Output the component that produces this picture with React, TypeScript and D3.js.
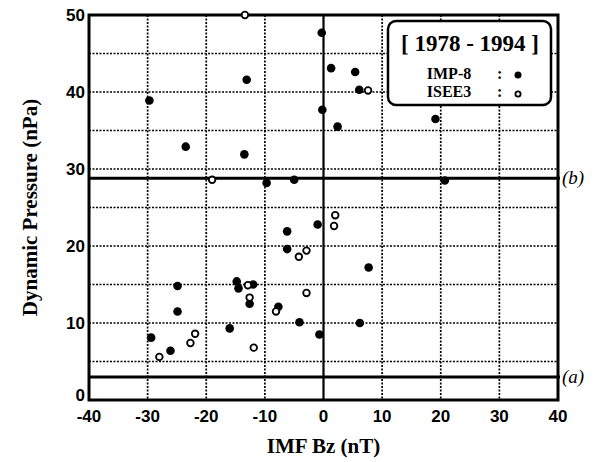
import { useEffect, useRef } from 'react'
import * as d3 from 'd3'

// IMF Bz (nT) vs dynamic pressure (nPa), 1978 - 1994
const impBz = [-29.7, -23.5, -13.1, -13.5, -0.3, 1.3, 5.4, 6.1, -0.2, 2.4, 19.1, -9.7, -5.0, 20.7,
  -24.9, -24.9, -29.4, -26.1, -16.0, -14.8, -14.5, -12.0, -12.6, -1.0, -6.2, -6.2, 7.7, -7.7, -4.1, 6.2, -0.7]
const impP = [38.9, 32.9, 41.6, 31.9, 47.7, 43.1, 42.6, 40.3, 37.7, 35.5, 36.5, 28.2, 28.6, 28.5,
  14.8, 11.5, 8.1, 6.4, 9.3, 15.4, 14.5, 15.0, 12.5, 22.8, 21.9, 19.6, 17.2, 12.1, 10.1, 10.0, 8.5]

const iseeBz = [-13.4, -19.0, 7.6, -28.0, -22.7, -21.9, -12.9, -12.6, -11.9, 2.0, 1.8, -2.9, -4.2, -2.9, -8.1]
const iseeP = [50.0, 28.6, 40.2, 5.6, 7.4, 8.6, 14.9, 13.3, 6.8, 24.0, 22.6, 19.4, 18.6, 13.9, 11.5]

const xTicks = [-40, -30, -20, -10, 0, 10, 20, 30, 40]
const yTicks = [0, 10, 20, 30, 40, 50]
const yGrid = [5, 10, 15, 20, 25, 30, 35, 40, 45]
const xGrid = [-30, -20, -10, 10, 20, 30]
const levels = [{ label: '(b)', value: 28.8 }, { label: '(a)', value: 3.0 }]

export default function App() {
  const svgRef = useRef<SVGSVGElement>(null)

  useEffect(() => {
    const svg = d3.select(svgRef.current)
    svg.selectAll('*').remove()
    const left = 89, right = 558, top = 15, bottom = 400
    const x = d3.scaleLinear().domain([-40, 40]).range([left, right])
    const y = d3.scaleLinear().domain([0, 50]).range([bottom, top])
    const sans = 'Liberation Sans, Arial, sans-serif'
    const serif = 'Liberation Serif, Times New Roman, serif'

    const g = svg.append('g')

    // dotted grid
    g.selectAll('.hgrid').data(yGrid).enter().append('line')
      .attr('x1', left).attr('x2', right)
      .attr('y1', d => y(d)).attr('y2', d => y(d))
      .attr('stroke', '#000').attr('stroke-width', 1.7).attr('stroke-dasharray', '2,1.5')
    g.selectAll('.vgrid').data(xGrid).enter().append('line')
      .attr('y1', top).attr('y2', bottom)
      .attr('x1', d => x(d)).attr('x2', d => x(d))
      .attr('stroke', '#000').attr('stroke-width', 1.7).attr('stroke-dasharray', '2,1.5')

    // zero line
    g.append('line')
      .attr('x1', x(0)).attr('x2', x(0)).attr('y1', top).attr('y2', bottom)
      .attr('stroke', '#000').attr('stroke-width', 2.2)

    // threshold lines
    levels.forEach(l => {
      g.append('line')
        .attr('x1', left).attr('x2', right + 2)
        .attr('y1', y(l.value)).attr('y2', y(l.value))
        .attr('stroke', '#000').attr('stroke-width', 3)
      g.append('text')
        .attr('x', right + 4).attr('y', y(l.value) + 6)
        .attr('font-family', serif).attr('font-style', 'italic')
        .attr('font-size', 19).text(l.label)
    })

    // frame
    g.append('rect')
      .attr('x', left).attr('y', top)
      .attr('width', right - left).attr('height', bottom - top)
      .attr('fill', 'none').attr('stroke', '#000').attr('stroke-width', 3)

    // points
    g.selectAll('.imp').data(impBz.map((b, i) => [b, impP[i]])).enter().append('circle')
      .attr('cx', d => x(d[0])).attr('cy', d => y(d[1]))
      .attr('r', 4.3).attr('fill', '#000')
    g.selectAll('.isee').data(iseeBz.map((b, i) => [b, iseeP[i]])).enter().append('circle')
      .attr('cx', d => x(d[0])).attr('cy', d => y(d[1]))
      .attr('r', 3.3).attr('fill', '#fff').attr('stroke', '#000').attr('stroke-width', 1.8)

    // tick labels
    g.selectAll('.xt').data(xTicks).enter().append('text')
      .attr('x', d => x(d)).attr('y', bottom + 22)
      .attr('text-anchor', 'middle')
      .attr('font-family', sans).attr('font-weight', 'bold').attr('font-size', 17)
      .text(d => d)
    g.selectAll('.yt').data(yTicks).enter().append('text')
      .attr('x', left - 4).attr('y', d => y(d) + (d === 0 ? 1 : 6))
      .attr('text-anchor', 'end')
      .attr('font-family', sans).attr('font-weight', 'bold').attr('font-size', 17)
      .text(d => d)

    // axis titles
    g.append('text')
      .attr('x', x(0)).attr('y', 453)
      .attr('text-anchor', 'middle')
      .attr('font-family', serif).attr('font-weight', 'bold').attr('font-size', 21)
      .text('IMF Bz (nT)')
    g.append('text')
      .attr('transform', `translate(37, ${(top + bottom) / 2}) rotate(-90)`)
      .attr('text-anchor', 'middle')
      .attr('font-family', serif).attr('font-weight', 'bold').attr('font-size', 21)
      .text('Dynamic Pressure (nPa)')

    // legend
    const lg = g.append('g')
    lg.append('rect')
      .attr('x', 388).attr('y', 21).attr('width', 163).attr('height', 84).attr('rx', 8)
      .attr('fill', '#fff').attr('stroke', '#000').attr('stroke-width', 2.5)
    lg.append('text')
      .attr('x', 470).attr('y', 51).attr('text-anchor', 'middle')
      .attr('font-family', serif).attr('font-size', 23).attr('font-weight', 'bold')
      .text('[ 1978 - 1994 ]')
    lg.append('text')
      .attr('x', 449).attr('y', 79).attr('text-anchor', 'middle')
      .attr('font-family', serif).attr('font-size', 16).attr('font-weight', 'bold')
      .text('IMP-8')
    lg.append('text')
      .attr('x', 449).attr('y', 97).attr('text-anchor', 'middle')
      .attr('font-family', serif).attr('font-size', 16).attr('font-weight', 'bold')
      .text('ISEE3')
    lg.append('text').attr('x', 497).attr('y', 79).attr('font-family', serif)
      .attr('font-size', 16).attr('font-weight', 'bold').text(':')
    lg.append('text').attr('x', 497).attr('y', 97).attr('font-family', serif)
      .attr('font-size', 16).attr('font-weight', 'bold').text(':')
    lg.append('circle').attr('cx', 518).attr('cy', 75).attr('r', 3.5).attr('fill', '#000')
    lg.append('circle').attr('cx', 518).attr('cy', 94).attr('r', 2.6)
      .attr('fill', '#fff').attr('stroke', '#000').attr('stroke-width', 1.8)
  }, [])

  return (
    <svg
      ref={svgRef}
      width={600}
      height={462}
      style={{ position: 'absolute', left: 0, top: 0, background: '#fff' }}
    />
  )
}
